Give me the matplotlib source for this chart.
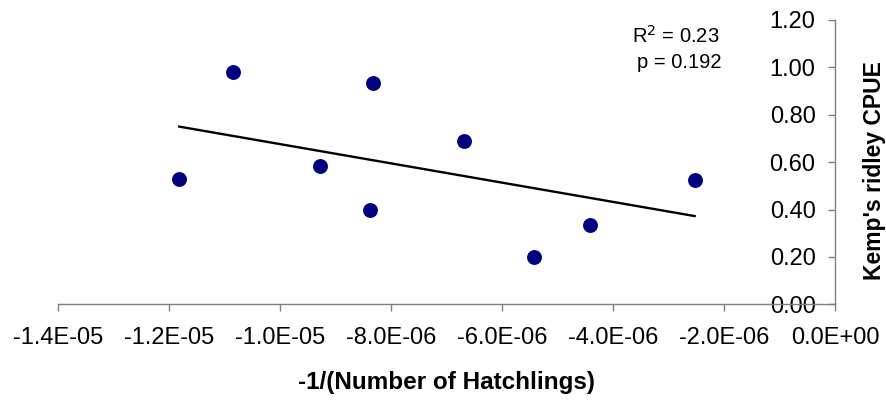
import numpy as np
import matplotlib
matplotlib.use("Agg")
import matplotlib.pyplot as plt
from matplotlib.ticker import FuncFormatter, MultipleLocator

plt.rcParams['font.family'] = ['Liberation Sans', 'DejaVu Sans']

# -1/(number of hatchlings) vs Kemp's ridley CPUE
inv_hatchlings = [-1.182e-5, -1.086e-5, -9.29e-6, -8.39e-6, -8.33e-6,
                  -6.69e-6, -5.43e-6, -4.41e-6, -2.53e-6]
cpue = [0.53, 0.98, 0.585, 0.40, 0.935, 0.69, 0.20, 0.335, 0.525]

r_squared_label = "R$^2$ = 0.23"
p_label = "p = 0.192"
x_label = "-1/(Number of Hatchlings)"
y_label = "Kemp's ridley CPUE"

fig = plt.figure(figsize=(8.87, 4.01), dpi=100)
ax = fig.add_axes([58.3 / 887, (401 - 304.3) / 401, (835 - 58.3) / 887, (304.3 - 20) / 401])

x = np.array(inv_hatchlings)
y = np.array(cpue)

ax.scatter(x, y, s=115, color='#000080', zorder=3, linewidths=0)

# least-squares trend line across the observed range
slope, intercept = np.polyfit(x, y, 1)
xl = np.array([x.min(), x.max()])
ax.plot(xl, slope * xl + intercept, color='black', lw=1.7, zorder=2)

ax.set_xlim(-1.4e-5, 0)
ax.set_ylim(0, 1.2)
ax.xaxis.set_major_locator(MultipleLocator(2e-6))
ax.yaxis.set_major_locator(MultipleLocator(0.2))
ax.xaxis.set_major_formatter(FuncFormatter(lambda v, p: f"{v:.1E}".replace("-0.0E+00", "0.0E+00")))
ax.yaxis.set_major_formatter(FuncFormatter(lambda v, p: f"{v:.2f}"))

ax.spines['left'].set_position(('data', 0))
ax.spines['right'].set_visible(False)
ax.spines['top'].set_visible(False)
for s in ('left', 'bottom'):
    ax.spines[s].set_color('#7f7f7f')
    ax.spines[s].set_linewidth(1.0)

ax.tick_params(axis='both', direction='out', length=5, width=1.0, color='#7f7f7f',
               labelsize=17, labelcolor='black')
ax.tick_params(axis='x', pad=11)
ax.tick_params(axis='y', pad=9)

fig.text(447 / 887, 1 - 382 / 401, x_label, ha='center', va='center',
         fontsize=17.5, fontweight='bold')
fig.text(875 / 887, 1 - 171 / 401, y_label, ha='center', va='center',
         rotation=90, fontsize=16.5, fontweight='bold')

fig.text(676 / 887, 1 - 36 / 401, r_squared_label, ha='center', va='center', fontsize=14.5)
fig.text(679 / 887, 1 - 62 / 401, p_label, ha='center', va='center', fontsize=14.5)

fig.savefig("out.png", dpi=100)
